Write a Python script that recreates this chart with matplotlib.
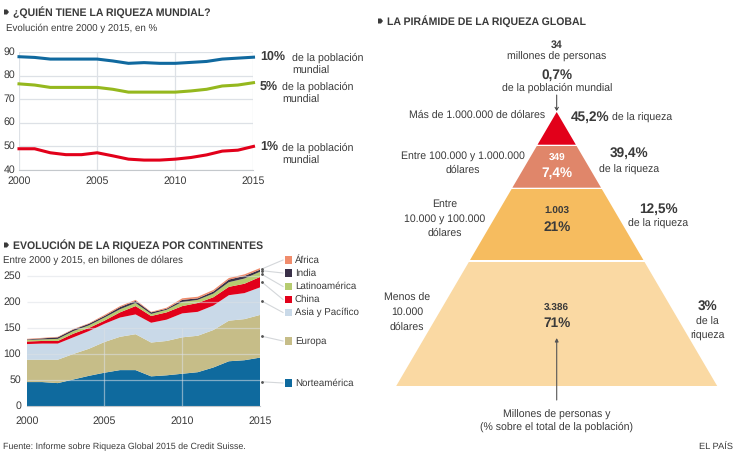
import matplotlib
matplotlib.use("Agg")
import matplotlib.pyplot as plt
from matplotlib.transforms import ScaledTranslation
import numpy as np

plt.rcParams['font.family'] = ['Liberation Sans', 'DejaVu Sans']
plt.rcParams['text.hinting'] = 'no_hinting'

W, H = 735, 453
DARK = "#3a3a3a"
GRID = "#dde1e6"

# top chart
years = list(range(2000, 2016))
top10 = [88, 87.7, 87, 87, 87, 87, 86.2, 85.2, 85.5, 85.2, 85.2, 85.6, 86, 87, 87.4, 87.8]
top5 = [76.5, 76, 75, 75, 75, 75, 74.2, 73, 73, 73, 73, 73.5, 74.2, 75.6, 76, 77]
top1 = [49, 49, 47.3, 46.5, 46.5, 47.3, 46, 44.6, 44.2, 44.2, 44.6, 45.3, 46.4, 48, 48.4, 50]

# continents, billions of dollars
norteamerica = [46, 46, 44, 51, 58, 64, 69, 69, 57, 59, 62, 65, 74, 86, 88, 93]
europa = [43, 43, 45, 49, 52, 59, 64, 69, 65, 66, 70, 70, 72, 78, 79, 82]
asia = [30, 31, 31, 32, 34, 35, 37, 38, 38, 41, 46, 46, 47, 49, 50, 53]
china = [5, 5, 5, 7, 6, 6, 10, 16, 13, 14, 14, 17, 16, 16, 18, 20]
latam = [3, 3, 4, 5, 5, 6, 6, 6, 4, 5, 8, 6, 7, 9, 10, 10]
india = [1, 2, 3, 3, 3, 3, 4, 4, 3, 2, 4, 3, 4, 5, 5, 4]
africa = [1, 1, 1, 1, 1, 2, 2, 2, 1, 2, 3, 3, 3, 3, 3, 3]
continent_names = ["Norteamérica", "Europa", "Asia y Pacífico", "China",
                   "Latinoamérica", "India", "África"]
continent_colors = ["#0f6a9e", "#c6bd88", "#c9d9e8", "#e2001a", "#b6cc70", "#3a3048", "#f08c6c"]
legend_y = [383, 341, 312.5, 299.5, 286.5, 273, 260]

# pyramid
tier_colors = ["#e2001a", "#e0866a", "#f6bc5f", "#fad9a3"]
tier_people = ["", "349", "1.003", "3.386"]
tier_share = ["", "7,4%", "21%", "71%"]


def axes_px(fig, left, top, right, bottom):
    return fig.add_axes([left / W, 1 - bottom / H, (right - left) / W, (bottom - top) / H])


def lift_labels(fig, ax, px):
    # tick labels sit a little above their gridline in the original
    for t in ax.get_yticklabels():
        t.set_transform(t.get_transform() + ScaledTranslation(0, px / 72 * 0.72, fig.dpi_scale_trans))


fig = plt.figure(figsize=(W / 100, H / 100), dpi=100)

# line chart
ax1 = axes_px(fig, 19, 52, 253.5, 170)
ax1.plot(years, top10, color="#10699f", lw=2.2, clip_on=False, zorder=3)
ax1.plot(years, top5, color="#95b81e", lw=2.2, clip_on=False, zorder=3)
ax1.plot(years, top1, color="#e2001a", lw=2.2, clip_on=False, zorder=3)
ax1.set_xlim(2000, 2015)
ax1.set_ylim(40, 90)
ax1.set_yticks([40, 50, 60, 70, 80, 90])
ax1.set_xticks([2000, 2005, 2010, 2015])
ax1.grid(True, color=GRID, lw=0.9)
ax1.set_axisbelow(True)
for s in ["top", "left", "right"]:
    ax1.spines[s].set_visible(False)
ax1.spines["bottom"].set_color("#c4c8cc")
ax1.tick_params(length=0, labelsize=7.6, labelcolor=DARK, pad=4.2)
ax1.tick_params(axis="y", pad=2.5)
lift_labels(fig, ax1, 1.5)

# stacked area
ax2 = axes_px(fig, 26.7, 252, 260, 406)
ax2.stackplot(years, norteamerica, europa, asia, china, latam, india, africa,
              colors=continent_colors, lw=0, zorder=2)
ax2.set_xlim(2000, 2015)
ax2.set_ylim(0, 296)
ax2.set_yticks([0, 50, 100, 150, 200, 250])
ax2.set_xticks([2000, 2005, 2010, 2015])
ax2.hlines([50, 100, 150, 200, 250], 2000, 2015, color=GRID, lw=0.9, alpha=0.55, zorder=3)
ax2.vlines([2005, 2010], 0, 150, color=GRID, lw=0.9, alpha=0.55, zorder=3)
for s in ["top", "left", "right"]:
    ax2.spines[s].set_visible(False)
ax2.spines["bottom"].set_color("#c4c8cc")
ax2.tick_params(length=0, labelsize=7.6, labelcolor=DARK, pad=7)
ax2.tick_params(axis="y", pad=4)
lift_labels(fig, ax2, 1)

# overlay in pixels for text, leaders and the pyramid
ov = fig.add_axes([0, 0, 1, 1], zorder=5)
ov.set_xlim(0, W)
ov.set_ylim(H, 0)
ov.axis("off")
ov.patch.set_alpha(0)


def txt(x, y, s, size=7.6, weight="normal", ha="left", color=DARK, **kw):
    ov.text(x, y, s, fontsize=size, fontweight=weight, ha=ha, va="center", color=color, **kw)


def heading(x, y, s):
    ov.add_patch(plt.Polygon([(x, y - 2.5), (x + 3, y - 2.5), (x + 5, y), (x + 3, y + 2.5), (x, y + 2.5)],
                             color=DARK, lw=0))
    txt(x + 9, y, s, size=7.6, weight="bold")


heading(4, 12, "¿QUIÉN TIENE LA RIQUEZA MUNDIAL?")
txt(6, 28, "Evolución entre 2000 y 2015, en %", size=7.06)
heading(4, 245, "EVOLUCIÓN DE LA RIQUEZA POR CONTINENTES")
txt(3, 260, "Entre 2000 y 2015, en billones de dólares", size=7.06)
heading(378, 21, "LA PIRÁMIDE DE LA RIQUEZA GLOBAL")
txt(3, 447, "Fuente: Informe sobre Riqueza Global 2015 de Credit Suisse.", size=6.4)
txt(733, 447, "EL PAÍS", size=6.7, ha="right")

# labels right of the line chart
txt(260, 57, "10%", size=9, weight="bold")
txt(292, 58, "de la población", size=7.7)
txt(292, 71, "mundial", size=7.7)
txt(260, 87, "5%", size=9, weight="bold")
txt(282.5, 87, "de la población", size=7.7)
txt(282.5, 100, "mundial", size=7.7)
txt(260, 147, "1%", size=9, weight="bold")
txt(282.5, 148, "de la población", size=7.7)
txt(282.5, 161, "mundial", size=7.7)

# legend of the area chart with leader lines
tops = np.cumsum([norteamerica, europa, asia, china, latam, india, africa], axis=0)[:, -1]
bottoms = np.concatenate([[0], tops[:-1]])
for name, color, ly, lo, hi in zip(continent_names, continent_colors, legend_y, bottoms, tops):
    _, py = ov.transData.inverted().transform(ax2.transData.transform((2015, (lo + hi) / 2)))
    ov.plot([262, 283], [py, ly], color="#d4d7da", lw=0.8, zorder=1)
    ov.plot([262], [py], marker="o", ms=1, color="#555555", zorder=2)
    ov.add_patch(plt.Rectangle((285, ly - 3.6), 7.2, 7.2, color=color, lw=0))
    txt(295, ly, name, size=7.05)

# pyramid tiers
apex_x, apex_y = 556.7, 112
slope = 160.5 / 274
tier_top = [112, 146, 189, 262]
tier_bottom = [144.7, 187.7, 260, 386]
for color, y0, y1 in zip(tier_colors, tier_top, tier_bottom):
    w0 = (y0 - apex_y) * slope
    w1 = (y1 - apex_y) * slope
    ov.add_patch(plt.Polygon([(apex_x - w0, y0), (apex_x + w0, y0), (apex_x + w1, y1), (apex_x - w1, y1)],
                             color=color, lw=0))

c = apex_x
txt(c, 45, "34", weight="bold", ha="center")
txt(c, 56.5, "millones de personas", ha="center")
txt(c, 75, "0,7%", size=9.8, weight="bold", ha="center")
txt(c, 87.5, "de la población mundial", ha="center")
ov.annotate("", xy=(c, 111), xytext=(c, 95),
            arrowprops=dict(arrowstyle="->,head_width=0.12,head_length=0.2", color=DARK, lw=0.7, shrinkA=0, shrinkB=0))
ov.annotate("", xy=(c, 338), xytext=(c, 400),
            arrowprops=dict(arrowstyle="-|>,head_width=0.1,head_length=0.2", color="#555555", lw=0.8, shrinkA=0, shrinkB=0))

# left labels
txt(545, 115, "Más de 1.000.000 de dólares", ha="right")
txt(462.5, 156, "Entre 100.000 y 1.000.000", ha="center")
txt(462.5, 170, "dólares", ha="center")
txt(445, 204, "Entre", ha="center")
txt(445, 218.5, "10.000 y 100.000", ha="center")
txt(445, 233, "dólares", ha="center")
txt(407, 298, "Menos de", ha="center")
txt(407, 312.5, "10.000", ha="center")
txt(407, 327, "dólares", ha="center")

# right labels
txt(570.5, 117, "45,2%", size=9.8, weight="bold")
txt(612, 118, "de la riqueza")
txt(629, 153.5, "39,4%", size=9.8, weight="bold", ha="center")
txt(629, 170, "de la riqueza", ha="center")
txt(658.5, 209.5, "12,5%", size=9.8, weight="bold", ha="center")
txt(658.5, 224, "de la riqueza", ha="center")
txt(707.5, 306, "3%", size=9.8, weight="bold", ha="center")
txt(707.5, 322, "de la", ha="center")
txt(707.5, 336, "riqueza", ha="center")

# numbers inside the tiers
inner_people_y = [0, 158, 211.5, 308.5]
inner_share_y = [0, 173, 227, 323.5]
inner_color = ["white", "white", DARK, DARK]
for p, s, py, sy, col in zip(tier_people, tier_share, inner_people_y, inner_share_y, inner_color):
    if p:
        txt(c, py, p, size=7.2, weight="bold", ha="center", color=col)
        txt(c, sy, s, size=9.8, weight="bold", ha="center", color=col)

txt(c, 415, "Millones de personas y", ha="center")
txt(c, 427, "(% sobre el total de la población)", ha="center")

fig.savefig("out.png", dpi=100)
